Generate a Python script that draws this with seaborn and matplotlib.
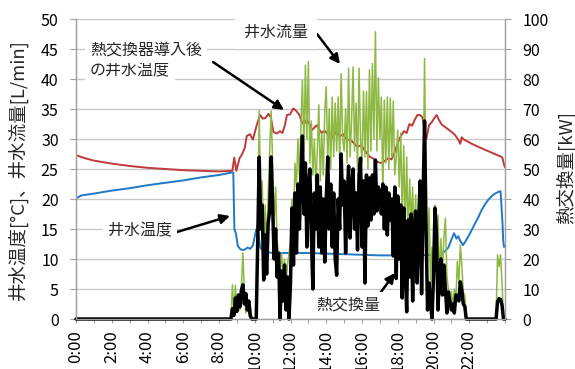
import numpy as np
import matplotlib
matplotlib.use("Agg")
import matplotlib.pyplot as plt
import seaborn as sns

# ---------------------------------------------------------------- data
# Well-water temperature before the heat exchanger [°C]  (hour of day, value)
well_t = [0, 0.3, 1, 2, 3, 4, 5, 6, 7, 8, 8.7, 8.8, 8.86, 8.95, 9.05, 9.2, 9.4,
          9.6, 9.75, 9.9, 10.05, 10.15, 10.3, 10.5, 11, 12, 13, 14, 15, 16, 17,
          18, 19, 20, 20.4, 20.6, 20.83, 21.0, 21.15, 21.28, 21.38, 21.5, 21.65,
          21.8, 22.05, 22.3, 22.5, 22.7, 22.9, 23.1, 23.3, 23.5, 23.65, 23.75,
          23.8, 23.86, 23.9, 23.95, 24.0]
well_temp = [20.1, 20.6, 20.9, 21.4, 21.8, 22.3, 22.7, 23.1, 23.6, 24.0, 24.4,
             24.4, 15.0, 14.2, 12.2, 11.6, 11.5, 11.9, 11.7, 12.3, 14.5, 15.5,
             12.0, 11.2, 11.0, 11.0, 11.0, 10.9, 10.8, 10.7, 10.6, 10.6, 10.6,
             10.7, 10.9, 11.2, 11.9, 13.2, 14.3, 13.4, 13.8, 13.0, 12.3, 13.0,
             14.3, 15.8, 16.9, 18.2, 19.2, 20.0, 20.6, 21.0, 21.2, 21.3, 19.0,
             16.0, 13.0, 12.0, 12.2]

# Well-water temperature after the heat exchanger was installed [°C]
outlet_t = [0, 0.5, 1, 2, 3, 4, 5, 6, 7, 8, 8.75, 8.85, 8.97, 9.15, 9.3, 9.45,
            9.55, 9.73, 9.9, 10.1, 10.3, 10.45, 10.6, 10.76, 10.9, 11.04, 11.23,
            11.4, 11.55, 11.7, 11.8, 11.97, 12.16, 12.35, 12.5, 12.62, 12.75,
            12.9, 13.05, 13.2, 13.3, 13.47, 13.6, 13.74, 13.9, 14.05, 14.3,
            14.45, 14.58, 14.75, 14.95, 15.14, 15.3, 15.45, 15.7, 15.98, 16.2,
            16.45, 16.6, 16.82, 17.1, 17.3, 17.47, 17.65, 17.8, 18.03, 18.2,
            18.35, 18.5, 18.65, 18.8, 18.95, 19.1, 19.25, 19.38, 19.5, 19.6,
            19.75, 19.9, 20.05, 20.18, 20.3, 20.46, 20.65, 20.83, 21.0, 21.2,
            21.4, 21.5, 21.58, 21.7, 21.9, 22.14, 22.5, 22.88, 23.2, 23.5,
            23.75, 23.85, 23.95, 24.0]
outlet_temp = [27.3, 26.8, 26.4, 25.9, 25.5, 25.2, 25.0, 24.8, 24.7, 24.6, 24.7,
               26.9, 24.7, 26.8, 27.5, 28.6, 30.5, 30.8, 29.9, 32.2, 34.0, 33.4,
               33.5, 34.2, 33.6, 31.2, 30.9, 31.3, 31.0, 32.5, 34.0, 34.1, 35.1,
               34.6, 34.0, 32.9, 32.4, 33.2, 32.6, 31.5, 31.8, 32.3, 31.6, 31.0,
               31.4, 30.9, 30.2, 30.8, 31.2, 30.4, 30.8, 29.8, 29.9, 29.6, 28.8,
               28.9, 27.9, 27.0, 26.8, 26.2, 26.0, 26.4, 26.8, 26.6, 27.6, 29.6,
               30.6, 31.3, 31.0, 32.5, 32.2, 33.2, 34.0, 34.0, 33.6, 31.8, 30.0,
               32.3, 32.8, 33.5, 34.0, 33.2, 32.4, 32.0, 31.6, 31.2, 30.7, 29.8,
               29.2, 30.3, 29.9, 29.6, 29.2, 28.7, 28.2, 27.8, 27.4, 27.1, 26.9,
               25.7, 25.3]

# Logger readings every 5 minutes from 8:00 to 22:00 (one row per hour)
log_start_h = 8.0
log_step_h = 5 / 60
flow_lpm = [  # well-water flow [L/min]
    0, 0, 0, 0, 0, 0, 0, 0, 0, 5.7, 1.0, 5.6,                                  # 8
    1.2, 3.9, 1.5, 5.0, 11.0, 5.0, 1.0, 3.3, 0.8, 2.3, 0, 0,                   # 9
    0, 0, 14, 34.8, 18, 23, 12, 19, 10, 21, 28, 34.7,                          # 10
    26, 16, 22, 13, 11, 8, 11, 7, 10, 6, 9, 11,                                # 11
    13, 20, 16, 26, 22, 30, 24, 32, 39.8, 28, 42.3, 30,                        # 12
    42.9, 26, 33, 24, 30, 22, 28, 35.7, 23, 31, 24, 34.6,                      # 13
    38.7, 26, 35, 25, 37, 27, 36, 28, 37, 26, 40.9, 30,                        # 14
    28, 35, 26, 41.8, 27, 33, 42, 28, 36, 25, 41.8, 30,                        # 15
    26, 38, 27, 37.9, 25, 41.5, 28, 42.6, 30, 47.9, 28, 40.2,                  # 16
    30, 37, 21, 36.5, 26, 37, 25, 36.8, 27, 36.3, 24, 27,                      # 17
    31.5, 22, 31, 17, 28.9, 15, 27, 14, 23.3, 16, 22, 12,                      # 18
    20.7, 10, 21, 12, 14, 20, 43.4, 19, 9, 18.5, 6, 12,                        # 19
    8, 19, 14, 17.3, 6, 13.4, 8, 13.5, 16.8, 7, 5, 4,                          # 20
    4.6, 2, 5, 3, 9.6, 6, 12.3, 9, 4.5, 4, 0, 0,                               # 21
    0]
heat_kw = [  # heat exchanged [kW]
    0, 0, 0, 0, 0, 0, 0, 0, 0, 3.4, 1.2, 7.0,                                  # 8
    2.5, 8.0, 4.0, 9.5, 11.4, 5.0, 8.5, 3.0, 6.0, 1.0, 0, 0,                   # 9
    0, 0, 26, 54, 30, 38, 13, 28, 15, 32, 36, 54,                              # 10
    38, 20, 30, 14, 22, 0, 16, 6, 18, 3, 14, 0,                                # 11
    12, 37, 18, 42, 22, 45, 30, 48, 61, 35, 52, 24,                            # 12
    44, 50, 28, 10, 42, 30, 48, 24, 44, 22, 40, 19,                            # 13
    40, 54, 30, 45, 24, 42, 20, 14.6, 40, 30, 55, 38,                          # 14
    46, 22, 40, 51, 27, 44, 50, 30, 42, 23, 48, 53.6,                          # 15
    24, 46, 12, 48, 31, 47, 33, 48, 35, 53, 36, 44,                            # 16
    42, 35, 45, 30, 44, 28, 42, 33, 40, 21, 44, 13.5,                          # 17
    41, 20, 38, 7, 37, 18, 2.4, 33, 14, 35, 6, 30,                             # 18
    36, 12, 30, 46, 8.4, 40, 66, 30, 3, 12, 5, 0,                              # 19
    14, 37, 28, 3, 15, 20, 8, 18, 10, 2, 9, 6,                                 # 20
    3, 5, 2, 8, 7.8, 6, 12.4, 9.5, 5, 4.2, 0, 0,                               # 21
    0]

# Short evening run, 5-minute readings from 23:30 to 24:00
late_start_h = 23.5
late_flow = [0, 10.7, 8.7, 10.7, 6.0, 0, 0]
late_heat = [0, 5.8, 6.8, 6.5, 4.6, 0, 0]

# Axis ticks
hour_ticks = list(range(0, 25))
hour_labels = [f"{h}:00" if (h % 2 == 0 and h < 24) else "" for h in hour_ticks]
temp_ticks = list(range(0, 51, 5))
heat_ticks = list(range(0, 101, 10))

# ---------------------------------------------------------------- series
log_t = log_start_h + np.arange(len(flow_lpm)) * log_step_h
late_t = late_start_h + np.arange(len(late_flow)) * log_step_h
flow_t = np.concatenate([[0.0], log_t, late_t])
flow_v = np.concatenate([[0.0], flow_lpm, late_flow])
heat_t = np.concatenate([[0.0], log_t, late_t])
heat_v = np.concatenate([[0.0], heat_kw, late_heat])

# ---------------------------------------------------------------- style
sns.set_theme(style="white")
plt.rcParams["font.family"] = ["Noto Sans CJK JP", "DejaVu Sans"]
plt.rcParams["axes.unicode_minus"] = False

RED = "#C0393B"
BLUE = "#1F78C8"
GREEN = "#8DB842"
GRID = "#C9C9C9"
AXIS = "#A0A0A0"

W, H = 575, 369
fig = plt.figure(figsize=(W / 100, H / 100), dpi=100)
ax = fig.add_axes([76 / W, 1 - 319 / H, (505 - 76) / W, 300 / H])
ax2 = ax.twinx()

sns.lineplot(x=well_t, y=well_temp, ax=ax, color=BLUE, linewidth=1.4, zorder=2)
sns.lineplot(x=outlet_t, y=outlet_temp, ax=ax, color=RED, linewidth=1.4, zorder=2.1)
sns.lineplot(x=flow_t, y=flow_v, ax=ax, color=GREEN, linewidth=1.1, zorder=2.2)
sns.lineplot(x=heat_t, y=heat_v, ax=ax2, color="black", linewidth=2.5, zorder=2)
for ln in ax2.lines:
    ln.set_clip_on(False)

ax.set_xlim(0, 24)
ax.set_ylim(0, 50)
ax2.set_ylim(0, 100)
ax.set_xlabel("")
ax.set_ylabel("")
ax2.set_ylabel("")

ax.set_xticks(hour_ticks)
ax.set_xticklabels(hour_labels, rotation=90)
ax.set_yticks(temp_ticks)
ax2.set_yticks(heat_ticks)

ax.tick_params(axis="x", direction="out", length=3, width=0.8, color=AXIS,
               labelsize=12, pad=5, bottom=True, labelcolor="black")
ax.tick_params(axis="y", direction="out", length=4.5, width=0.8, color=AXIS,
               labelsize=11.5, pad=8, left=True, labelcolor="black")
ax2.tick_params(axis="y", direction="out", length=4.5, width=0.8, color=AXIS,
                labelsize=11.5, pad=8, right=True, labelcolor="black")

ax.yaxis.grid(True, color=GRID, linewidth=1.0)
ax.xaxis.grid(False)
ax.set_axisbelow(True)
ax2.grid(False)

for a in (ax, ax2):
    a.spines["top"].set_visible(False)
    for s in ("left", "right", "bottom"):
        a.spines[s].set_color(AXIS)
        a.spines[s].set_linewidth(0.9)

# axis titles
fig.text(18 / W, 1 - 170 / H, "井水温度[°C]、井水流量[L/min]", rotation=90,
         ha="center", va="center", fontsize=13.3)
fig.text(566 / W, 1 - 168 / H, "熱交換量[kW]", rotation=90,
         ha="center", va="center", fontsize=13.3)


# ---------------------------------------------------------------- callouts
def fp(px, py):
    return (px / W, 1 - py / H)


box = dict(boxstyle="square,pad=0.3", facecolor="white", edgecolor="none")
arrow = dict(arrowstyle="-|>", color="black", lw=1.8, mutation_scale=14,
             shrinkA=0, shrinkB=0)
label_kw = dict(fontsize=11.5, va="center", zorder=5, bbox=box)

fig.text(*fp(90, 71), "の井水温度", ha="left", **label_kw)
fig.text(*fp(90, 50), "熱交換器導入後", ha="left", **label_kw)
ax2.annotate("", xy=fp(284, 110), xytext=fp(213, 62),
             xycoords="figure fraction", textcoords="figure fraction",
             arrowprops=arrow, annotation_clip=False)

box_top = dict(boxstyle="square,pad=0.55", facecolor="white", edgecolor="none")
fig.text(*fp(276, 32), "井水流量", ha="center", fontsize=11.5, va="center",
         zorder=5, bbox=box_top)
ax2.annotate("", xy=fp(340, 64), xytext=fp(317, 34),
             xycoords="figure fraction", textcoords="figure fraction",
             arrowprops=arrow, annotation_clip=False)

fig.text(*fp(140, 231), "井水温度", ha="center", **label_kw)
ax2.annotate("", xy=fp(230, 216), xytext=fp(177, 232),
             xycoords="figure fraction", textcoords="figure fraction",
             arrowprops=arrow, annotation_clip=False)

fig.text(*fp(348, 305), "熱交換量", ha="center", **label_kw)
ax2.annotate("", xy=fp(395, 273), xytext=fp(378, 296),
             xycoords="figure fraction", textcoords="figure fraction",
             arrowprops=arrow, annotation_clip=False)

fig.savefig("out.png", dpi=100)
